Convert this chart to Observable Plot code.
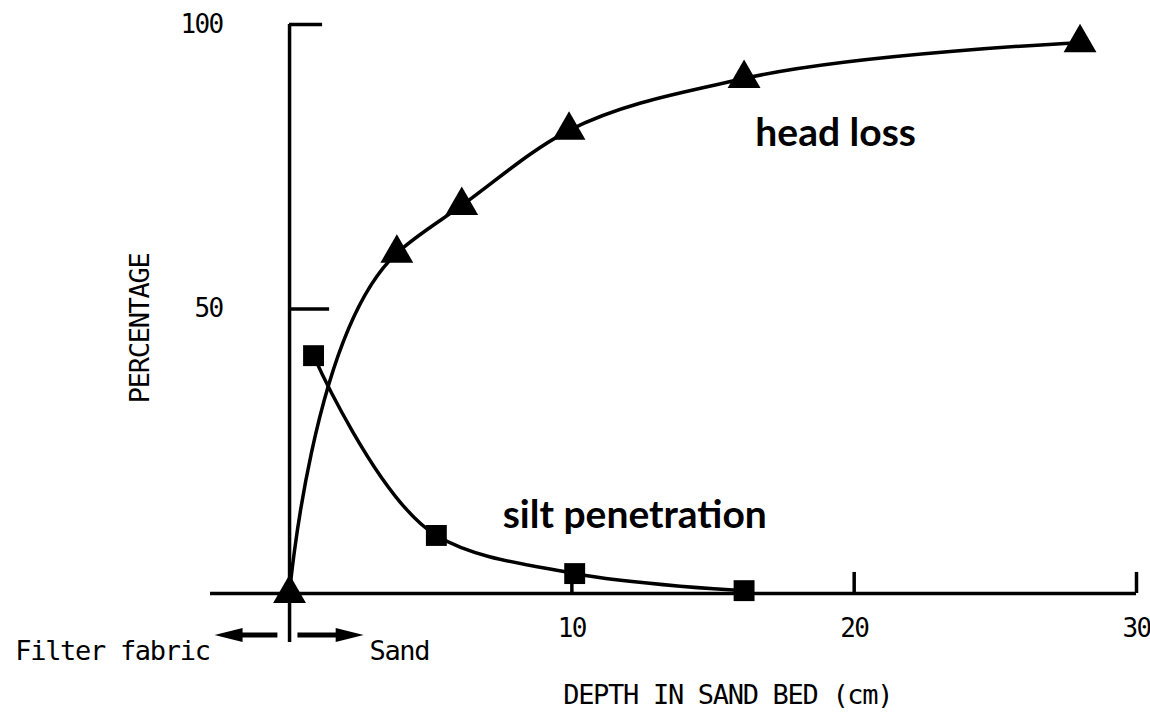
<!DOCTYPE html>
<html>
<head>
<meta charset="utf-8">
<script src="https://cdn.jsdelivr.net/npm/d3@7"></script>
<script src="https://cdn.jsdelivr.net/npm/@observablehq/plot@0.6"></script>
<style>
  html, body { margin: 0; padding: 0; background: #fff; }
  #chart svg { display: block; }
  .mono { letter-spacing: -1.3px; }
  .digits { letter-spacing: -1.6px; }
</style>
</head>
<body>
<div id="chart"></div>
<script>
// ---- data ----
const depthHead = [0, 3.8, 6.1, 9.9, 16.1, 28];
const headLoss  = [0, 59.8, 68.2, 81.4, 90.5, 96.8];
const depthSilt = [0.85, 5.2, 10.1, 16.1];
const siltPen   = [41.8, 10.2, 3.5, 0.5];
const xTicks = [10, 20, 30];
const yTicks = [50, 100];
const seriesLabels = ["head loss", "silt penetration"];
const xLabel = "DEPTH IN SAND BED (cm)";
const yLabel = "PERCENTAGE";
const sideLabels = ["Filter fabric", "Sand"];

// ---- tables built from the arrays ----
const head = depthHead.map((x, i) => ({x, y: headLoss[i]}));
const silt = depthSilt.map((x, i) => ({x, y: siltPen[i]}));

const mono = "DejaVu Sans Mono";
const bold = "Lato";
const SW = 3.5;

const arrowRight = {draw(c) { c.moveTo(14, 0); c.lineTo(-14, -7); c.lineTo(-14, 7); c.closePath(); }};
const arrowLeft  = {draw(c) { c.moveTo(-14, 0); c.lineTo(14, -7); c.lineTo(14, 7); c.closePath(); }};

const chart = Plot.plot({
  width: 1150,
  height: 714,
  marginLeft: 210,
  marginRight: 14,
  marginTop: 24,
  marginBottom: 121,
  style: {fontFamily: mono, background: "#fff", color: "#000"},
  x: {domain: [-2.8, 30], axis: null},
  y: {domain: [0, 100], axis: null},
  marks: [
    // axes
    Plot.ruleY([0], {stroke: "#000", strokeWidth: SW}),
    Plot.ruleX([0], {y1: -8.6, y2: 100, stroke: "#000", strokeWidth: SW}),
    Plot.ruleY(yTicks, {x1: 0, x2: d => d === 100 ? 1.17 : 1.42, stroke: "#000", strokeWidth: SW}),
    Plot.ruleX(xTicks, {y1: 0, y2: 3.7, stroke: "#000", strokeWidth: SW}),
    // tick labels
    Plot.text(yTicks, {x: -2.37, y: d => d, text: d => String(d), textAnchor: "end", fontSize: 26, fill: "#000", className: "digits"}),
    Plot.text(xTicks, {x: d => d, y: -6.15, text: d => String(d), fontSize: 26, fill: "#000", className: "digits"}),
    // axis titles
    Plot.text([yLabel], {x: -5.28, y: 46.6, text: d => d, rotate: -90, fontSize: 27, fill: "#000", className: "mono"}),
    Plot.text([xLabel], {x: 15.52, y: -17.9, text: d => d, fontSize: 27, fill: "#000", className: "mono"}),
    // filter fabric / sand arrows
    Plot.link([0], {x1: -0.43, x2: -2.16, y1: -7.3, y2: -7.3, stroke: "#000", strokeWidth: 5}),
    Plot.link([0], {x1: 0.28, x2: 2.13, y1: -7.3, y2: -7.3, stroke: "#000", strokeWidth: 5}),
    Plot.dot([0], {x: -2.16, y: -7.3, symbol: arrowLeft, fill: "#000", stroke: "none"}),
    Plot.dot([0], {x: 2.13, y: -7.3, symbol: arrowRight, fill: "#000", stroke: "none"}),
    Plot.text([sideLabels[0]], {x: -2.83, y: -10.2, text: d => d, textAnchor: "end", fontSize: 27, fill: "#000", className: "mono"}),
    Plot.text([sideLabels[1]], {x: 2.83, y: -10.2, text: d => d, textAnchor: "start", fontSize: 27, fill: "#000", className: "mono"}),
    // series
    Plot.line(head, {x: "x", y: "y", curve: "catmull-rom", tension: 1, stroke: "#000", strokeWidth: SW}),
    Plot.line(silt, {x: "x", y: "y", curve: "catmull-rom", tension: 1, stroke: "#000", strokeWidth: SW}),
    Plot.dot(head, {x: "x", y: "y", symbol: "triangle", r: 12.2, fill: "#000", stroke: "none"}),
    Plot.dot(silt, {x: "x", y: "y", symbol: "square", r: 11.8, fill: "#000", stroke: "none"}),
    // series labels
    Plot.text([seriesLabels[0]], {x: 16.5, y: 80.8, text: d => d, textAnchor: "start", fontFamily: bold, fontWeight: "bold", fontSize: 39, fill: "#000"}),
    Plot.text([seriesLabels[1]], {x: 7.55, y: 13.7, text: d => d, textAnchor: "start", fontFamily: bold, fontWeight: "bold", fontSize: 39, fill: "#000"})
  ]
});
document.getElementById("chart").appendChild(chart);
</script>
</body>
</html>
